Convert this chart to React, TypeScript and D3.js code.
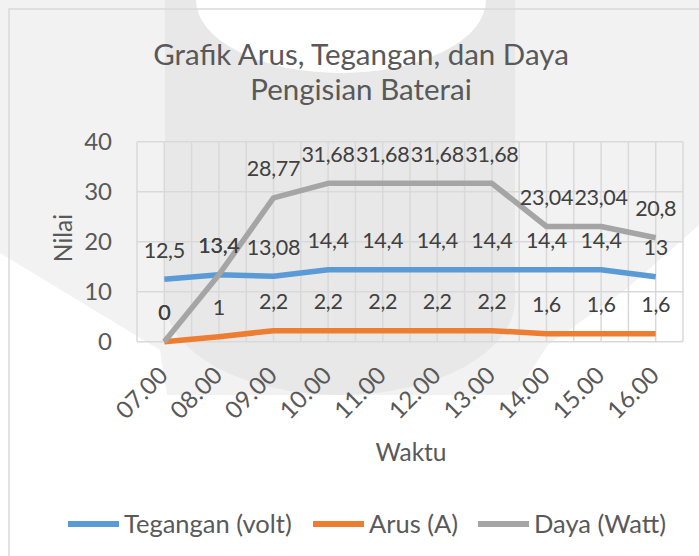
import React, { useEffect, useRef } from "react";
import * as d3 from "d3";

const categories = ["07.00", "08.00", "09.00", "10.00", "11.00", "12.00", "13.00", "14.00", "15.00", "16.00"];
const tegangan = [12.5, 13.4, 13.08, 14.4, 14.4, 14.4, 14.4, 14.4, 14.4, 13];
const arus = [0, 1, 2.2, 2.2, 2.2, 2.2, 2.2, 1.6, 1.6, 1.6];
const daya = [0, 13.4, 28.77, 31.68, 31.68, 31.68, 31.68, 23.04, 23.04, 20.8];
const yTicks = [0, 10, 20, 30, 40];

const series = [
  { name: "Tegangan (volt)", values: tegangan, color: "#5b9bd5" },
  { name: "Arus (A)", values: arus, color: "#ed7d31" },
  { name: "Daya (Watt)", values: daya, color: "#a5a5a5" },
];

const FONT = "Lato, 'Open Sans', sans-serif";
const TXT = "#595959";

export default function App() {
  const ref = useRef<SVGSVGElement>(null);

  useEffect(() => {
    const svg = d3.select(ref.current);
    svg.selectAll("*").remove();

    const W = 699, H = 556;
    const plot = { left: 137, right: 683, top: 141.7, bottom: 341.7 };

    // faint watermark behind the chart
    const bg = svg.append("g");
    bg.append("rect").attr("width", W).attr("height", H).attr("fill", "#fff");
    bg.append("path")
      .attr("d", "M0,0 L699,0 L699,225 L625,290 L548,345 L515,395 L167,395 L160,350 L0,253 Z")
      .attr("fill", "#f2f2f2");
    bg.append("path")
      .attr("d", "M165,0 L515,0 L515,300 A175 95 0 0 1 165,300 Z")
      .attr("fill", "#e8e8e8");
    bg.append("ellipse").attr("cx", 341).attr("cy", 0).attr("rx", 145).attr("ry", 73).attr("fill", "#fff");

    // chart area border
    svg.append("path").attr("d", "M9,556 L9,9 L699,9").attr("fill", "none")
      .attr("stroke", "#d9d9d9").attr("stroke-width", 1.5);

    const x = d3.scaleBand().domain(categories).range([plot.left, plot.right]);
    const y = d3.scaleLinear().domain([0, 40]).range([plot.bottom, plot.top]);
    const cx = (c: string) => (x(c) as number) + x.bandwidth() / 2;

    // gridlines: category edges and centres, plus value ticks
    const grid = svg.append("g").attr("stroke", "#d9d9d9").attr("stroke-width", 1.5);
    const vx = d3.range(0, categories.length * 2 + 1).map((k) => plot.left + (k * x.bandwidth()) / 2);
    grid.selectAll("line.v").data(vx).enter().append("line")
      .attr("x1", (d) => d).attr("x2", (d) => d).attr("y1", plot.top).attr("y2", plot.bottom);
    grid.selectAll("line.h").data(yTicks).enter().append("line")
      .attr("x1", plot.left).attr("x2", plot.right).attr("y1", (d) => y(d)).attr("y2", (d) => y(d));

    // y tick labels
    svg.append("g").selectAll("text").data(yTicks).enter().append("text")
      .attr("x", 112).attr("y", (d) => y(d)).attr("dy", "0.35em")
      .attr("text-anchor", "end").attr("font-family", FONT).attr("font-size", 24).attr("fill", TXT)
      .text((d) => d);

    // x tick labels, rotated
    svg.append("g").selectAll("text").data(categories).enter().append("text")
      .attr("transform", (d) => `translate(${cx(d) + 5},377) rotate(-45)`)
      .attr("text-anchor", "end").attr("font-family", FONT).attr("font-size", 24).attr("fill", TXT)
      .text((d) => d);

    // axis titles
    svg.append("text").attr("transform", "translate(72,238) rotate(-90)")
      .attr("text-anchor", "middle").attr("font-family", FONT).attr("font-size", 24.5).attr("fill", TXT)
      .text("Nilai");
    svg.append("text").attr("x", 411).attr("y", 461)
      .attr("text-anchor", "middle").attr("font-family", FONT).attr("font-size", 24.5).attr("fill", TXT)
      .text("Waktu");

    // title
    const title = svg.append("text").attr("text-anchor", "middle").attr("font-family", FONT)
      .attr("font-size", 29.5).attr("fill", TXT);
    title.append("tspan").attr("x", 361).attr("y", 65).text("Grafik Arus, Tegangan, dan Daya");
    title.append("tspan").attr("x", 361).attr("y", 100).text("Pengisian Baterai");

    // lines
    const line = d3.line<number>()
      .x((_, i) => cx(categories[i]))
      .y((d) => y(d));
    series.forEach((s) => {
      svg.append("path").datum(s.values).attr("d", line)
        .attr("fill", "none").attr("stroke", s.color).attr("stroke-width", 5.5)
        .attr("stroke-linejoin", "round");
    });

    // data labels above points
    const fmt = (v: number) => String(v).replace(".", ",");
    series.forEach((s) => {
      svg.append("g").selectAll("text").data(s.values).enter().append("text")
        .attr("x", (_, i) => cx(categories[i])).attr("y", (d) => y(d) - 29).attr("dy", "0.35em")
        .attr("text-anchor", "middle").attr("font-family", FONT).attr("font-size", 21.5)
        .attr("letter-spacing", -0.3).attr("fill", "#404040")
        .text((d) => fmt(d));
    });

    // legend
    const legendX = [68, 313, 478];
    series.forEach((s, i) => {
      const g = svg.append("g").attr("transform", `translate(${legendX[i]},524)`);
      g.append("line").attr("x1", 0).attr("x2", 51).attr("stroke", s.color).attr("stroke-width", 6);
      g.append("text").attr("x", 56).attr("dy", "0.35em").attr("font-family", FONT).attr("font-size", 25.5)
        .attr("fill", TXT).text(s.name);
    });
  }, []);

  return <svg ref={ref} width={699} height={556} style={{ position: "absolute", left: 0, top: 0 }} />;
}
